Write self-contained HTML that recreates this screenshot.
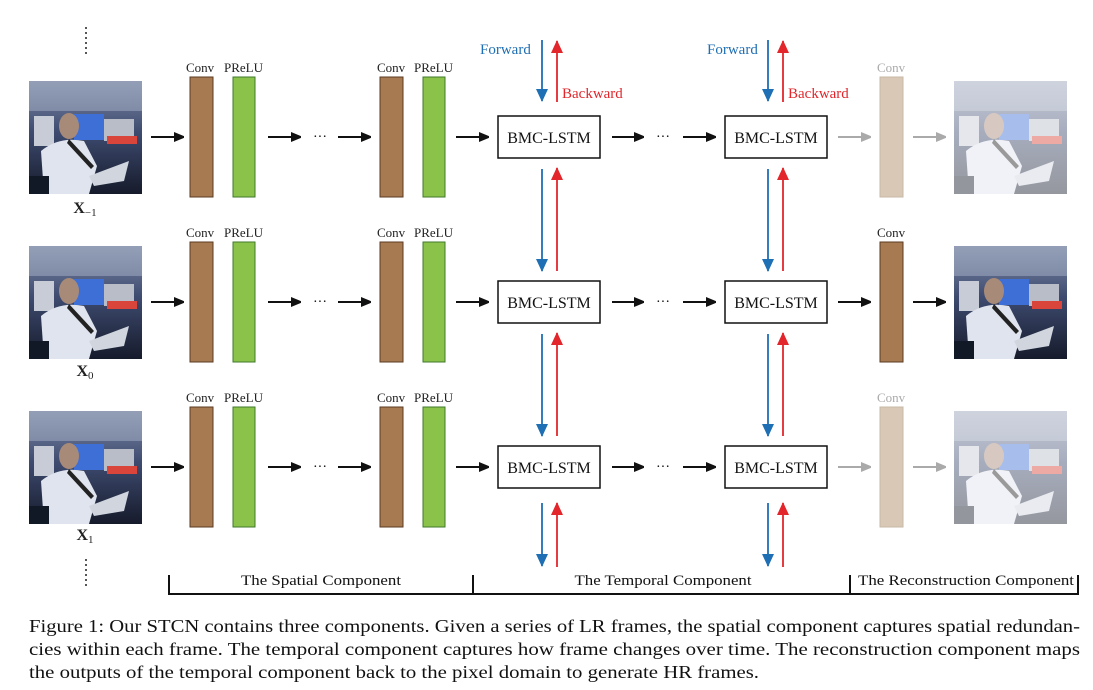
<!DOCTYPE html>
<html><head><meta charset="utf-8"><style>
html,body{margin:0;padding:0;background:#fff;}
svg, svg text{font-family:"Liberation Serif","Times New Roman",serif;}
</style></head><body>
<svg width="1093" height="685" viewBox="0 0 1093 685" xmlns="http://www.w3.org/2000/svg" font-family="Liberation Serif, serif">
<defs>
<marker id="ak" markerWidth="10" markerHeight="10" refX="9" refY="5" orient="auto" markerUnits="userSpaceOnUse"><path d="M0,0 L12,5 L0,10 z" fill="#111"/></marker>
<marker id="ag" markerWidth="10" markerHeight="10" refX="9" refY="5" orient="auto" markerUnits="userSpaceOnUse"><path d="M0,0 L12,5 L0,10 z" fill="#aaa"/></marker>
<marker id="ab" markerWidth="14" markerHeight="14" refX="12" refY="6" orient="auto" markerUnits="userSpaceOnUse"><path d="M0,0 L13,6 L0,12 z" fill="#1f6fb4"/></marker>
<marker id="ar" markerWidth="14" markerHeight="14" refX="12" refY="6" orient="auto" markerUnits="userSpaceOnUse"><path d="M0,0 L13,6 L0,12 z" fill="#e2262b"/></marker>
<linearGradient id="bg" x1="0" y1="0" x2="0" y2="1"><stop offset="0" stop-color="#7f8ba6"/><stop offset="0.45" stop-color="#3e4b70"/><stop offset="1" stop-color="#161b2b"/></linearGradient>
<g id="photo">
<rect width="113" height="113" fill="url(#bg)"/>
<rect x="0" y="0" width="113" height="30" fill="#a8b2c8" opacity="0.5"/>
<rect x="45" y="33" width="30" height="26" fill="#3d6fd6"/>
<rect x="75" y="38" width="30" height="22" fill="#b8bdc8"/>
<rect x="78" y="55" width="30" height="8" fill="#d9453a"/>
<rect x="5" y="35" width="20" height="30" fill="#c8ccd6"/>
<ellipse cx="40" cy="45" rx="10" ry="13" fill="#a88a78"/>
<path d="M12,70 Q30,55 55,60 L68,85 L60,113 L15,113 Z" fill="#dfe4ee"/>
<path d="M40,58 L65,85 L62,88 L38,62 Z" fill="#222"/>
<path d="M60,95 L100,80 L95,100 L65,105 Z" fill="#d0d5de"/>
<rect x="0" y="95" width="20" height="18" fill="#111826"/>
</g>
</defs>

<g fill="#222">
<circle cx="86" cy="28" r="1"/><circle cx="86" cy="33" r="1"/><circle cx="86" cy="38" r="1"/><circle cx="86" cy="43" r="1"/><circle cx="86" cy="48" r="1"/><circle cx="86" cy="53" r="1"/>
<circle cx="86" cy="560" r="1"/><circle cx="86" cy="565" r="1"/><circle cx="86" cy="570" r="1"/><circle cx="86" cy="575" r="1"/><circle cx="86" cy="580" r="1"/><circle cx="86" cy="585" r="1"/>
</g>

<g fill="#222">
<use href="#photo" x="29" y="81"/>
<text x="85" y="213" font-size="16" text-anchor="middle" font-weight="bold">X<tspan font-size="11" font-weight="normal" dy="3">−1</tspan></text>
<use href="#photo" x="29" y="246"/>
<text x="85" y="376" font-size="16" text-anchor="middle" font-weight="bold">X<tspan font-size="11" font-weight="normal" dy="3">0</tspan></text>
<use href="#photo" x="29" y="411"/>
<text x="85" y="540" font-size="16" text-anchor="middle" font-weight="bold">X<tspan font-size="11" font-weight="normal" dy="3">1</tspan></text>
</g>

<g id="row1">
<text x="186" y="72" font-size="13" fill="#222">Conv</text><text x="224" y="72" font-size="13" fill="#222">PReLU</text>
<text x="377" y="72" font-size="13" fill="#222">Conv</text><text x="414" y="72" font-size="13" fill="#222">PReLU</text>
<rect x="190" y="77" width="23" height="120" fill="#a87a52" stroke="#5a3b22"/>
<rect x="233" y="77" width="22" height="120" fill="#8bc34a" stroke="#3f7a2a"/>
<rect x="380" y="77" width="23" height="120" fill="#a87a52" stroke="#5a3b22"/>
<rect x="423" y="77" width="22" height="120" fill="#8bc34a" stroke="#3f7a2a"/>
<g stroke="#111" stroke-width="2">
<line x1="151" y1="137" x2="183" y2="137" marker-end="url(#ak)"/>
<line x1="268" y1="137" x2="300" y2="137" marker-end="url(#ak)"/>
<line x1="338" y1="137" x2="370" y2="137" marker-end="url(#ak)"/>
<line x1="456" y1="137" x2="488" y2="137" marker-end="url(#ak)"/>
<line x1="612" y1="137" x2="643" y2="137" marker-end="url(#ak)"/>
<line x1="683" y1="137" x2="715" y2="137" marker-end="url(#ak)"/>
</g>
<text x="320" y="141" font-size="14" text-anchor="middle">···</text>
<text x="663" y="141" font-size="14" text-anchor="middle">···</text>
<rect x="498" y="116" width="102" height="42" fill="#fff" stroke="#111" stroke-width="1.5"/>
<text x="549" y="143" font-size="16" text-anchor="middle" fill="#111">BMC-LSTM</text>
<rect x="725" y="116" width="102" height="42" fill="#fff" stroke="#111" stroke-width="1.5"/>
<text x="776" y="143" font-size="16" text-anchor="middle" fill="#111">BMC-LSTM</text>
</g>
<use href="#row1" y="165"/>
<use href="#row1" y="330"/>

<g stroke-width="2">
<line x1="838" y1="137" x2="870" y2="137" stroke="#aaa" marker-end="url(#ag)"/>
<line x1="913" y1="137" x2="945" y2="137" stroke="#aaa" marker-end="url(#ag)"/>
<line x1="838" y1="302" x2="870" y2="302" stroke="#111" marker-end="url(#ak)"/>
<line x1="913" y1="302" x2="945" y2="302" stroke="#111" marker-end="url(#ak)"/>
<line x1="838" y1="467" x2="870" y2="467" stroke="#aaa" marker-end="url(#ag)"/>
<line x1="913" y1="467" x2="945" y2="467" stroke="#aaa" marker-end="url(#ag)"/>
</g>
<text x="877" y="72" font-size="13" fill="#aaa">Conv</text>
<text x="877" y="237" font-size="13" fill="#222">Conv</text>
<text x="877" y="402" font-size="13" fill="#aaa">Conv</text>
<rect x="880" y="77" width="23" height="120" fill="#d9c8b6" stroke="#c8b8a6"/>
<rect x="880" y="242" width="23" height="120" fill="#a87a52" stroke="#5a3b22"/>
<rect x="880" y="407" width="23" height="120" fill="#d9c8b6" stroke="#c8b8a6"/>
<use href="#photo" x="954" y="81" opacity="0.45"/>
<use href="#photo" x="954" y="246"/>
<use href="#photo" x="954" y="411" opacity="0.45"/>

<g stroke-width="1.8">
<g id="vcol">
<line x1="542" y1="40" x2="542" y2="101" stroke="#1f6fb4" marker-end="url(#ab)"/>
<line x1="557" y1="102" x2="557" y2="41" stroke="#e2262b" marker-end="url(#ar)"/>
<line x1="542" y1="169" x2="542" y2="271" stroke="#1f6fb4" marker-end="url(#ab)"/>
<line x1="557" y1="271" x2="557" y2="168" stroke="#e2262b" marker-end="url(#ar)"/>
<line x1="542" y1="334" x2="542" y2="436" stroke="#1f6fb4" marker-end="url(#ab)"/>
<line x1="557" y1="436" x2="557" y2="333" stroke="#e2262b" marker-end="url(#ar)"/>
<line x1="542" y1="503" x2="542" y2="566" stroke="#1f6fb4" marker-end="url(#ab)"/>
<line x1="557" y1="567" x2="557" y2="503" stroke="#e2262b" marker-end="url(#ar)"/>
</g>
<use href="#vcol" x="226"/>
</g>
<g font-size="15">
<text x="480" y="54" fill="#1f6fb4">Forward</text>
<text x="562" y="98" fill="#e2262b">Backward</text>
<text x="707" y="54" fill="#1f6fb4">Forward</text>
<text x="788" y="98" fill="#e2262b">Backward</text>
</g>

<g stroke="#111" stroke-width="2" fill="none">
<path d="M169,575 V594 H1078 V575"/>
<line x1="473" y1="575" x2="473" y2="594"/>
<line x1="850" y1="575" x2="850" y2="594"/>
</g>
<g font-size="15" fill="#111">
<text x="321" y="585" text-anchor="middle" textLength="160" lengthAdjust="spacingAndGlyphs">The Spatial Component</text>
<text x="663" y="585" text-anchor="middle" textLength="177" lengthAdjust="spacingAndGlyphs">The Temporal Component</text>
<text x="966" y="585" text-anchor="middle" textLength="216" lengthAdjust="spacingAndGlyphs">The Reconstruction Component</text>
</g>

<g font-size="18" fill="#111">
<text x="29" y="632" textLength="1051" lengthAdjust="spacingAndGlyphs">Figure 1: Our STCN contains three components. Given a series of LR frames, the spatial component captures spatial redundan-</text>
<text x="29" y="655" textLength="1051" lengthAdjust="spacingAndGlyphs">cies within each frame. The temporal component captures how frame changes over time. The reconstruction component maps</text>
<text x="29" y="678" textLength="730" lengthAdjust="spacingAndGlyphs">the outputs of the temporal component back to the pixel domain to generate HR frames.</text>
</g>
</svg>
</body></html>
